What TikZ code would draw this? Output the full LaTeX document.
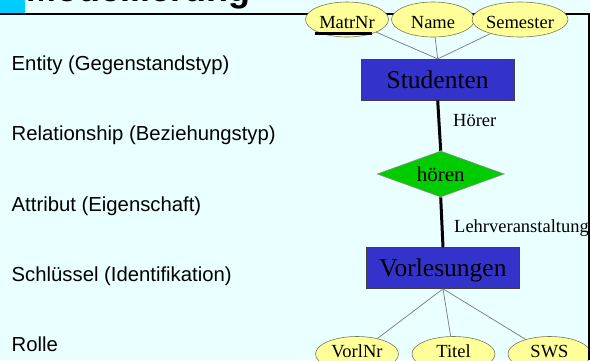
\documentclass[tikz,border=0pt]{standalone}
\usepackage{fontspec}
\setmainfont{Liberation Serif}
\newfontfamily\sansf{Liberation Sans}
\usetikzlibrary{shapes.geometric,calc}

\definecolor{bg}{RGB}{234,255,255}
\definecolor{accent}{RGB}{0,204,255}
\definecolor{entfill}{RGB}{51,51,204}
\definecolor{relfill}{RGB}{0,204,0}
\definecolor{attfill}{RGB}{255,255,153}
\definecolor{attdraw}{RGB}{120,120,90}
\definecolor{linkgray}{RGB}{120,120,120}

\begin{document}
\begin{tikzpicture}[x=1pt,y=-1pt,
  every node/.style={inner sep=0pt},
  entity/.style={draw=black!75, line width=0.6pt, fill=entfill,
    minimum width=153pt, minimum height=41pt,
    font=\fontsize{25.5}{28}\selectfont, text height=17.5pt, text depth=0pt},
  relation/.style={diamond, aspect=2.76, draw=black!45, line width=0.6pt,
    fill=relfill, minimum width=127pt, minimum height=46pt,
    font=\fontsize{21}{24}\selectfont, text height=15.5pt, text depth=0pt},
  attr/.style={ellipse, draw=attdraw, line width=0.6pt, fill=attfill,
    minimum width=83pt, minimum height=35pt,
    font=\fontsize{18.5}{21}\selectfont},
  attrtop/.style={attr, text height=17.2pt, text depth=0pt},
  attrbottom/.style={attr, text height=12.6pt, text depth=4.8pt},
  rolelabel/.style={anchor=base west, font=\fontsize{18.5}{21}\selectfont},
  legend/.style={anchor=base west, font=\sansf\fontsize{20.3}{23}\selectfont},
  attrlink/.style={draw=linkgray, line width=0.7pt},
  rellink/.style={draw=black, line width=3pt},
  rule/.style={draw=black, line width=2pt}
]
\useasboundingbox (0,0) rectangle (590,360);
\fill[bg] (0,0) rectangle (590,360);

\begin{scope}
\clip (0,0) rectangle (590,360);

% title strip
\fill[accent] (0,0) rectangle (25,13);
\node[anchor=base west, font=\sansf\bfseries\fontsize{36}{40}\selectfont] (title) at (26.5,1.7) {Modellierung};
\draw[rule] (0,14) -- (589,14);

% legend on the left
\node[legend] (lent) at (11.5,70.7) {Entity (Gegenstandstyp)};
\node[legend] (lrel) at (11.5,140) {Relationship (Beziehungstyp)};
\node[legend] (latt) at (11.5,211.7) {Attribut (Eigenschaft)};
\node[legend] (lkey) at (11.5,281.7) {Schlüssel (Identifikation)};
\node[legend] (lrol) at (11.5,351.7) {Rolle};

% entities and relationship
\node[entity] (stud) at (437.7,79.7) {Studenten};
\node[relation] (rel) at (440.7,174) {hören};
\node[entity] (vorl) at (443,268) {Vorlesungen};

% attributes
\node[attrtop] (matr) at (347,19.5) {MatrNr};
\node[attrtop] (name) at (433,19.5) {Name};
\node[attrtop] (sem) at (520,19.5) {Semester};
\node[attrbottom] (vnr) at (357,354) {VorlNr};
\node[attrbottom] (titel) at (453.5,354) {Titel};
\node[attrbottom] (sws) at (549.5,354) {SWS};

% key underline
\draw[line width=3pt] ($(matr.center)+(-32,14)$) -- ++(57,0);

% attribute links
\draw[attrlink] (matr) -- (stud.north);
\draw[attrlink] (name) -- (stud.north);
\draw[attrlink] (sem) -- (stud.north);
\draw[attrlink] (vorl.south) -- (vnr);
\draw[attrlink] (vorl.south) -- (titel);
\draw[attrlink] (vorl.south) -- (sws);

% relationship links with roles
\draw[rellink] (stud.south) -- (rel.north);
\draw[rellink] (rel.south) -- (vorl.north);
\node[rolelabel] (rhoerer) at (453,126) {Hörer};
\node[rolelabel] (rlehr) at (454,232.7) {Lehrveranstaltung};

% right frame edge
\draw[rule] (588.8,13) -- (588.8,360);
\end{scope}
\end{tikzpicture}
\end{document}
